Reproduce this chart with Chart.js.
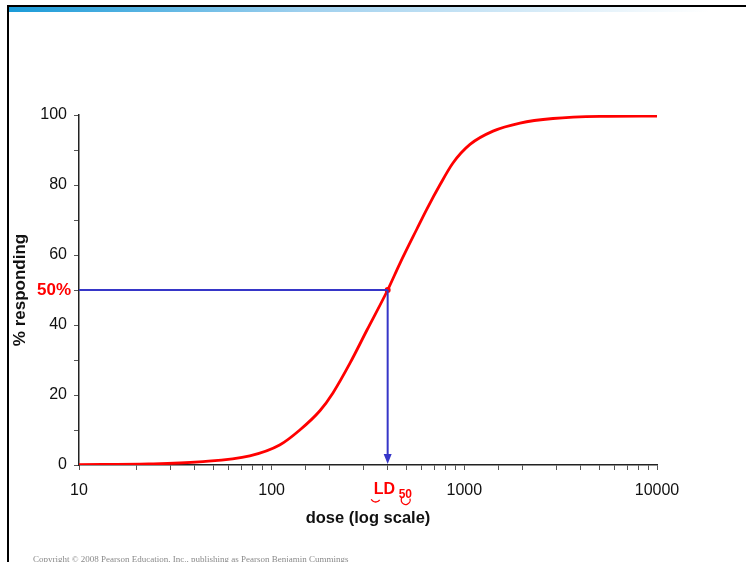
<!DOCTYPE html>
<html>
<head>
<meta charset="utf-8">
<script src="https://cdn.jsdelivr.net/npm/chart.js@4"></script>
<style>
  html, body { margin: 0; padding: 0; background: #fff; overflow: hidden; }
  #wrap { position: relative; width: 746px; height: 562px; }
  #c { position: absolute; left: 0; top: 0; }
  .topline { position: absolute; left: 7px; top: 5px; width: 739px; height: 2px; background: #000; }
  .bar { position: absolute; left: 9px; top: 7px; width: 737px; height: 5px;
         background: linear-gradient(to right, #1a9bd8, #9fd0ee 40%, #ffffff 95%); }
  .leftline { position: absolute; left: 7px; top: 5px; width: 2px; height: 557px; background: #000; }
  .copy { position: absolute; left: 33px; top: 554px; font: 9px "Liberation Serif", serif; color: #8a8a8a; white-space: nowrap; }
</style>
</head>
<body>
<div id="wrap">
  <canvas id="c" width="746" height="562"></canvas>
  <div class="topline"></div>
  <div class="bar"></div>
  <div class="leftline"></div>
  <div class="copy">Copyright © 2008 Pearson Education, Inc., publishing as Pearson Benjamin Cummings</div>
</div>
<script>
// dose-response curve
const doses = [10, 23, 42, 77, 110, 140, 178, 208, 255, 312, 400, 464, 568, 640, 750, 873, 1070, 1409, 1945, 2885, 5060, 10000];
const responding = [0.1, 0.3, 0.9, 2.6, 5.7, 10, 15.5, 20.6, 29.1, 38.5, 50, 57.7, 67.5, 73.2, 80.2, 86.3, 91.6, 95.4, 97.7, 99.0, 99.6, 99.7];
const ld50 = 400;
const halfLevel = 50;
const xTickLabels = [10, 100, 1000, 10000];
const yTickLabels = [0, 20, 40, 60, 80, 100];

const blue = '#3636c8';
const red = '#ff0000';

const markers = {
  id: 'markers',
  afterDatasetsDraw(chart) {
    const ctx = chart.ctx;
    const xs = chart.scales.x, ys = chart.scales.y;
    const px = xs.getPixelForValue(ld50);
    const py = ys.getPixelForValue(halfLevel);
    const base = ys.getPixelForValue(0);
    ctx.save();
    // arrow head on the vertical line
    ctx.fillStyle = blue;
    ctx.beginPath();
    ctx.moveTo(px, base - 1);
    ctx.lineTo(px - 4, base - 11);
    ctx.lineTo(px + 4, base - 11);
    ctx.closePath();
    ctx.fill();
    // 50% label
    ctx.fillStyle = red;
    ctx.font = 'bold 17px "Liberation Sans", Arial, sans-serif';
    ctx.textAlign = 'right';
    ctx.textBaseline = 'middle';
    ctx.fillText('50%', chart.chartArea.left - 8, py);
    // LD50 label
    ctx.textAlign = 'left';
    ctx.textBaseline = 'alphabetic';
    ctx.font = 'bold 16px "Liberation Sans", Arial, sans-serif';
    ctx.fillText('LD', px - 14, 494);
    ctx.font = 'bold 12px "Liberation Sans", Arial, sans-serif';
    ctx.fillText('50', px + 11, 498);
    // little hand-drawn marks
    ctx.strokeStyle = red;
    ctx.lineWidth = 1.3;
    ctx.beginPath();
    ctx.arc(px - 12, 497, 5, 0.2 * Math.PI, 0.85 * Math.PI);
    ctx.stroke();
    ctx.beginPath();
    ctx.arc(px + 18, 500, 4.5, -0.1 * Math.PI, 1.2 * Math.PI);
    ctx.stroke();
    ctx.restore();
  }
};

new Chart(document.getElementById('c'), {
  type: 'line',
  data: {
    datasets: [
      {
        label: 'guide h',
        data: [{ x: doses[0], y: halfLevel }, { x: ld50, y: halfLevel }],
        borderColor: blue,
        borderWidth: 2,
        pointRadius: 0,
        tension: 0
      },
      {
        label: 'guide v',
        data: [{ x: ld50, y: halfLevel }, { x: ld50, y: 2 }],
        borderColor: blue,
        borderWidth: 2,
        pointRadius: 0,
        tension: 0
      },
      {
        label: '% responding',
        data: doses.map((d, i) => ({ x: d, y: responding[i] })),
        borderColor: red,
        borderWidth: 2.8,
        pointRadius: doses.map(d => d === ld50 ? 3 : 0),
        pointBackgroundColor: red,
        pointBorderWidth: 0,
        cubicInterpolationMode: 'monotone'
      }
    ]
  },
  options: {
    responsive: false,
    animation: false,
    devicePixelRatio: 1,
    layout: { padding: { left: 0, top: 115, right: 89, bottom: 0 } },
    plugins: { legend: { display: false }, tooltip: { enabled: false } },
    scales: {
      x: {
        type: 'logarithmic',
        min: 10,
        max: 10000,
        afterFit(scale) { scale.height = 97; },
        grid: { drawOnChartArea: false, tickLength: 5, color: '#555' },
        border: { color: '#222', width: 1.5 },
        ticks: {
          autoSkip: false,
          maxRotation: 0,
          padding: 11,
          color: '#111',
          font: { family: '"Liberation Sans", Arial, sans-serif', size: 16 },
          callback: v => xTickLabels.includes(v) ? String(v) : ''
        },
        title: {
          display: true,
          text: 'dose (log scale)',
          color: '#111',
          padding: { top: 0, bottom: 34 },
          font: { family: '"Liberation Sans", Arial, sans-serif', size: 16.5, weight: 'bold' }
        }
      },
      y: {
        min: 0,
        max: 100,
        afterFit(scale) { scale.width = 79; },
        grid: { drawOnChartArea: false, tickLength: 5, color: '#555' },
        border: { color: '#222', width: 1.5 },
        ticks: {
          stepSize: 10,
          padding: 7,
          color: '#111',
          font: { family: '"Liberation Sans", Arial, sans-serif', size: 16 },
          callback: v => yTickLabels.includes(v) ? String(v) : ''
        },
        title: {
          display: true,
          text: '% responding',
          color: '#111',
          padding: { top: 10, bottom: 0 },
          font: { family: '"Liberation Sans", Arial, sans-serif', size: 17, weight: 'bold' }
        }
      }
    }
  },
  plugins: [markers]
});
</script>
</body>
</html>
